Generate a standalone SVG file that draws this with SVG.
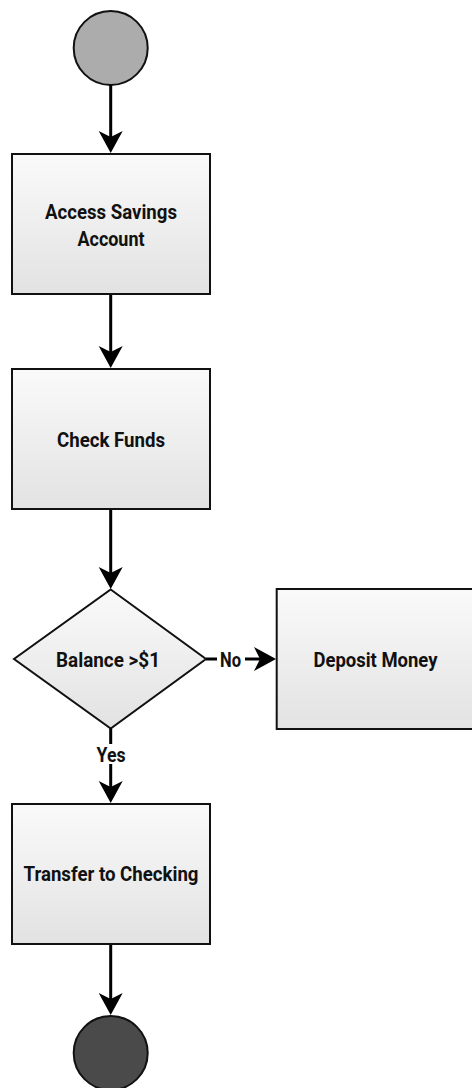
<svg xmlns="http://www.w3.org/2000/svg" width="472" height="1088" viewBox="0 0 472 1088">
<style>
.box{stroke:#111;stroke-width:2;fill:url(#g)}
.lbl{font-family:Roboto,"Liberation Sans",sans-serif;font-weight:700;font-size:21px;fill:#111;text-anchor:middle}
.con{stroke:#000;stroke-width:3;fill:none}
</style>
<defs>
<linearGradient id="g" x1="0" y1="0" x2="0" y2="1">
<stop offset="0" stop-color="#fafafa"/>
<stop offset="1" stop-color="#e2e2e2"/>
</linearGradient>
<marker id="ah" markerUnits="userSpaceOnUse" viewBox="-7 -13 24 26" refX="0" refY="0" markerWidth="24" markerHeight="26" orient="auto">
<path d="M16,0 L-6,-12 L0,0 L-6,12 Z" fill="#000"/>
</marker>
</defs>
<rect width="472" height="1088" fill="#fff"/>
<g id="start"><circle cx="110.7" cy="48" r="37" fill="#acacac" stroke="#111" stroke-width="2"/></g>
<g id="access"><rect class="box" x="12" y="154" width="198" height="140"/>
<text class="lbl" x="111" y="219" textLength="132" lengthAdjust="spacingAndGlyphs">Access Savings</text>
<text class="lbl" x="111" y="246" textLength="67" lengthAdjust="spacingAndGlyphs">Account</text></g>
<g id="check"><rect class="box" x="12" y="369" width="198" height="140"/>
<text class="lbl" x="111" y="446.5" textLength="108" lengthAdjust="spacingAndGlyphs">Check Funds</text></g>
<g id="decision"><polygon class="box" points="110.7,589.5 206,659 110.7,728.5 14,659"/>
<text class="lbl" x="108" y="666.5" textLength="104" lengthAdjust="spacingAndGlyphs">Balance &gt;$1</text></g>
<g id="deposit"><rect class="box" x="276.7" y="589" width="198" height="140"/>
<text class="lbl" x="375.5" y="666.5" textLength="124" lengthAdjust="spacingAndGlyphs">Deposit Money</text></g>
<g id="transfer"><rect class="box" x="12" y="804" width="198" height="140"/>
<text class="lbl" x="111" y="881" textLength="175" lengthAdjust="spacingAndGlyphs">Transfer to Checking</text></g>
<g id="end"><circle cx="110.7" cy="1053" r="37" fill="#4a4a4a" stroke="#111" stroke-width="2"/></g>
<g id="connectors">
<path class="con" d="M110.7,85 V137" marker-end="url(#ah)"/>
<path class="con" d="M110.7,295 V352" marker-end="url(#ah)"/>
<path class="con" d="M110.7,510 V573" marker-end="url(#ah)"/>
<path class="con" d="M206,659 H217"/>
<path class="con" d="M245,659 H260" marker-end="url(#ah)"/>
<text class="lbl" x="230.5" y="666.5" textLength="21" lengthAdjust="spacingAndGlyphs">No</text>
<path class="con" d="M110.7,728.5 V744"/>
<path class="con" d="M110.7,764 V787" marker-end="url(#ah)"/>
<text class="lbl" x="111" y="761.5" textLength="29" lengthAdjust="spacingAndGlyphs">Yes</text>
<path class="con" d="M110.7,945 V999" marker-end="url(#ah)"/>
</g>
</svg>
